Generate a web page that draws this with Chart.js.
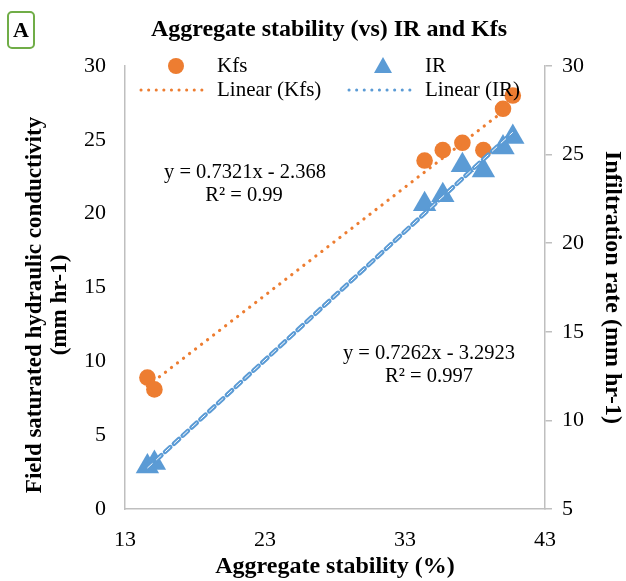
<!DOCTYPE html>
<html lang="en">
  <head>
    <meta charset="UTF-8" />
    <title>Aggregate stability (vs) IR and Kfs</title>
    <style>
      body { margin: 0; background: #fff; }
      #wrap { width: 626px; height: 581px; }
    </style>
  </head>
  <body>
    <div id="wrap"><canvas id="myChart" width="626" height="581"></canvas></div>

    <script src="https://cdn.jsdelivr.net/npm/chart.js"></script>
    <script>
      // values
      const aggStability = [14.6, 15.1, 34.4, 35.7, 37.1, 38.6, 40.0, 40.7];
      const kfsValues = [8.9, 8.1, 23.6, 24.3, 24.8, 24.3, 27.1, 28.0];
      const irValues = [7.4, 7.6, 22.2, 22.7, 24.4, 24.1, 25.4, 26.0];
      // trendline ends (Excel linear fits)
      const kfsTrendX = [14.6, 40.7];
      const kfsTrendY = [8.32, 27.43];
      const irTrendX = [14.6, 40.7];
      const irTrendY = [7.31, 26.26];
      const xTicks = [13, 23, 33, 43];

      const ORANGE = '#ed7d31';
      const BLUE = '#5b9bd5';
      const AXIS = '#bfbfbf';
      const SERIF = '"Liberation Serif", "Times New Roman", serif';

      const pts = (xs, ys) => xs.map((x, i) => ({ x: x, y: ys[i] }));

      // titles, legend, equations and the "A" label
      const decorations = {
        id: 'decorations',
        afterDraw(chart) {
          const ctx = chart.ctx;
          ctx.save();
          ctx.fillStyle = '#000';
          ctx.textBaseline = 'middle';

          // panel letter
          ctx.strokeStyle = '#70ad47';
          ctx.lineWidth = 2;
          ctx.beginPath();
          ctx.roundRect(8, 12, 26, 36, 4);
          ctx.stroke();
          ctx.textAlign = 'center';
          ctx.font = 'bold 22px ' + SERIF;
          ctx.fillText('A', 21, 31);

          // chart title
          ctx.font = 'bold 24px ' + SERIF;
          ctx.fillText('Aggregate stability (vs) IR and Kfs', 329, 30);

          // left axis title (two lines)
          ctx.save();
          ctx.translate(35, 305);
          ctx.rotate(-Math.PI / 2);
          ctx.font = 'bold 23px ' + SERIF;
          ctx.fillText('Field saturated hydraulic conductivity', 0, 0);
          ctx.fillText('(mm hr-1)', 0, 25);
          ctx.restore();

          // legend
          ctx.font = '21px ' + SERIF;
          ctx.textAlign = 'left';
          ctx.fillStyle = ORANGE;
          ctx.beginPath();
          ctx.arc(176, 66, 8, 0, Math.PI * 2);
          ctx.fill();
          ctx.fillStyle = BLUE;
          ctx.beginPath();
          ctx.moveTo(383, 57);
          ctx.lineTo(392, 73);
          ctx.lineTo(374, 73);
          ctx.closePath();
          ctx.fill();
          ctx.lineWidth = 3;
          ctx.lineCap = 'round';
          ctx.setLineDash([0.1, 7.5]);
          ctx.strokeStyle = ORANGE;
          ctx.beginPath();
          ctx.moveTo(141, 90);
          ctx.lineTo(205, 90);
          ctx.stroke();
          ctx.strokeStyle = BLUE;
          ctx.beginPath();
          ctx.moveTo(349, 90);
          ctx.lineTo(412, 90);
          ctx.stroke();
          ctx.setLineDash([]);
          ctx.fillStyle = '#000';
          ctx.fillText('Kfs', 217, 66);
          ctx.fillText('IR', 425, 66);
          ctx.fillText('Linear (Kfs)', 217, 90);
          ctx.fillText('Linear (IR)', 425, 90);

          // trendline equations
          ctx.textAlign = 'center';
          ctx.font = '20.5px ' + SERIF;
          ctx.fillText('y = 0.7321x - 2.368', 245, 173);
          ctx.fillText('R\u00b2 = 0.99', 244, 196);
          ctx.fillText('y = 0.7262x - 3.2923', 429, 354);
          ctx.fillText('R\u00b2 = 0.997', 429, 377);
          ctx.restore();
        }
      };

      const ctx = document.getElementById('myChart').getContext('2d');
      new Chart(ctx, {
        type: 'scatter',
        data: {
          datasets: [
            {
              label: 'Linear (Kfs)',
              data: pts(kfsTrendX, kfsTrendY),
              yAxisID: 'y',
              showLine: true,
              pointRadius: 0,
              borderColor: ORANGE,
              borderWidth: 3.2,
              borderDash: [0.1, 7.5],
              borderCapStyle: 'round',
              order: 1
            },
            {
              label: 'Linear (IR) inner',
              data: pts(irTrendX, irTrendY),
              yAxisID: 'y1',
              showLine: true,
              pointRadius: 0,
              borderColor: '#ffffff',
              borderWidth: 1,
              borderDash: [7, 5],
              order: 0
            },
            {
              label: 'Linear (IR)',
              data: pts(irTrendX, irTrendY),
              yAxisID: 'y1',
              showLine: true,
              pointRadius: 0,
              borderColor: BLUE,
              borderWidth: 4.6,
              borderDash: [7, 5],
              borderCapStyle: 'round',
              order: 1
            },
            {
              label: 'Kfs',
              data: pts(aggStability, kfsValues),
              yAxisID: 'y',
              pointStyle: 'circle',
              pointRadius: 8.3,
              pointHoverRadius: 8.3,
              backgroundColor: ORANGE,
              borderColor: ORANGE,
              borderWidth: 0,
              order: 2
            },
            {
              label: 'IR',
              data: pts(aggStability, irValues),
              yAxisID: 'y1',
              pointStyle: 'triangle',
              pointRadius: 13.5,
              pointHoverRadius: 13.5,
              backgroundColor: BLUE,
              borderColor: BLUE,
              borderWidth: 0,
              order: 2
            }
          ]
        },
        options: {
          responsive: false,
          animation: false,
          events: [],
          layout: { padding: { top: 66, left: 0, right: 0, bottom: 0 } },
          plugins: {
            legend: { display: false },
            title: { display: false },
            tooltip: { enabled: false }
          },
          scales: {
            x: {
              type: 'linear',
              min: 13,
              max: 43,
              afterBuildTicks: scale => { scale.ticks = xTicks.map(v => ({ value: v })); },
              afterFit: scale => { scale.height = 72; },
              grid: { display: false, drawTicks: false },
              border: { color: AXIS, width: 1.5 },
              ticks: { color: '#000', padding: 18, font: { family: SERIF, size: 22 } },
              title: {
                display: true,
                text: 'Aggregate stability (%)',
                color: '#000',
                padding: { top: 0, bottom: 2 },
                font: { family: SERIF, size: 24, weight: 'bold', lineHeight: 1 }
              }
            },
            y: {
              position: 'left',
              min: 0,
              max: 30,
              afterFit: scale => { scale.width = 125; },
              grid: { display: false, drawTicks: false },
              border: { color: AXIS, width: 1.5 },
              ticks: { stepSize: 5, color: '#000', padding: 19, font: { family: SERIF, size: 22 } }
            },
            y1: {
              position: 'right',
              min: 5,
              max: 30,
              afterFit: scale => { scale.width = 81; },
              grid: { drawOnChartArea: false, drawTicks: true, tickLength: 7, color: AXIS, lineWidth: 1.5 },
              border: { color: AXIS, width: 1.5 },
              ticks: { stepSize: 5, color: '#000', padding: 10, font: { family: SERIF, size: 22 } },
              title: {
                display: true,
                text: 'Infiltration rate (mm hr-1)',
                color: '#000',
                padding: { top: 1, bottom: 0 },
                font: { family: SERIF, size: 24, weight: 'bold', lineHeight: 1.1 }
              }
            }
          }
        },
        plugins: [decorations]
      });
    </script>
  </body>
</html>
